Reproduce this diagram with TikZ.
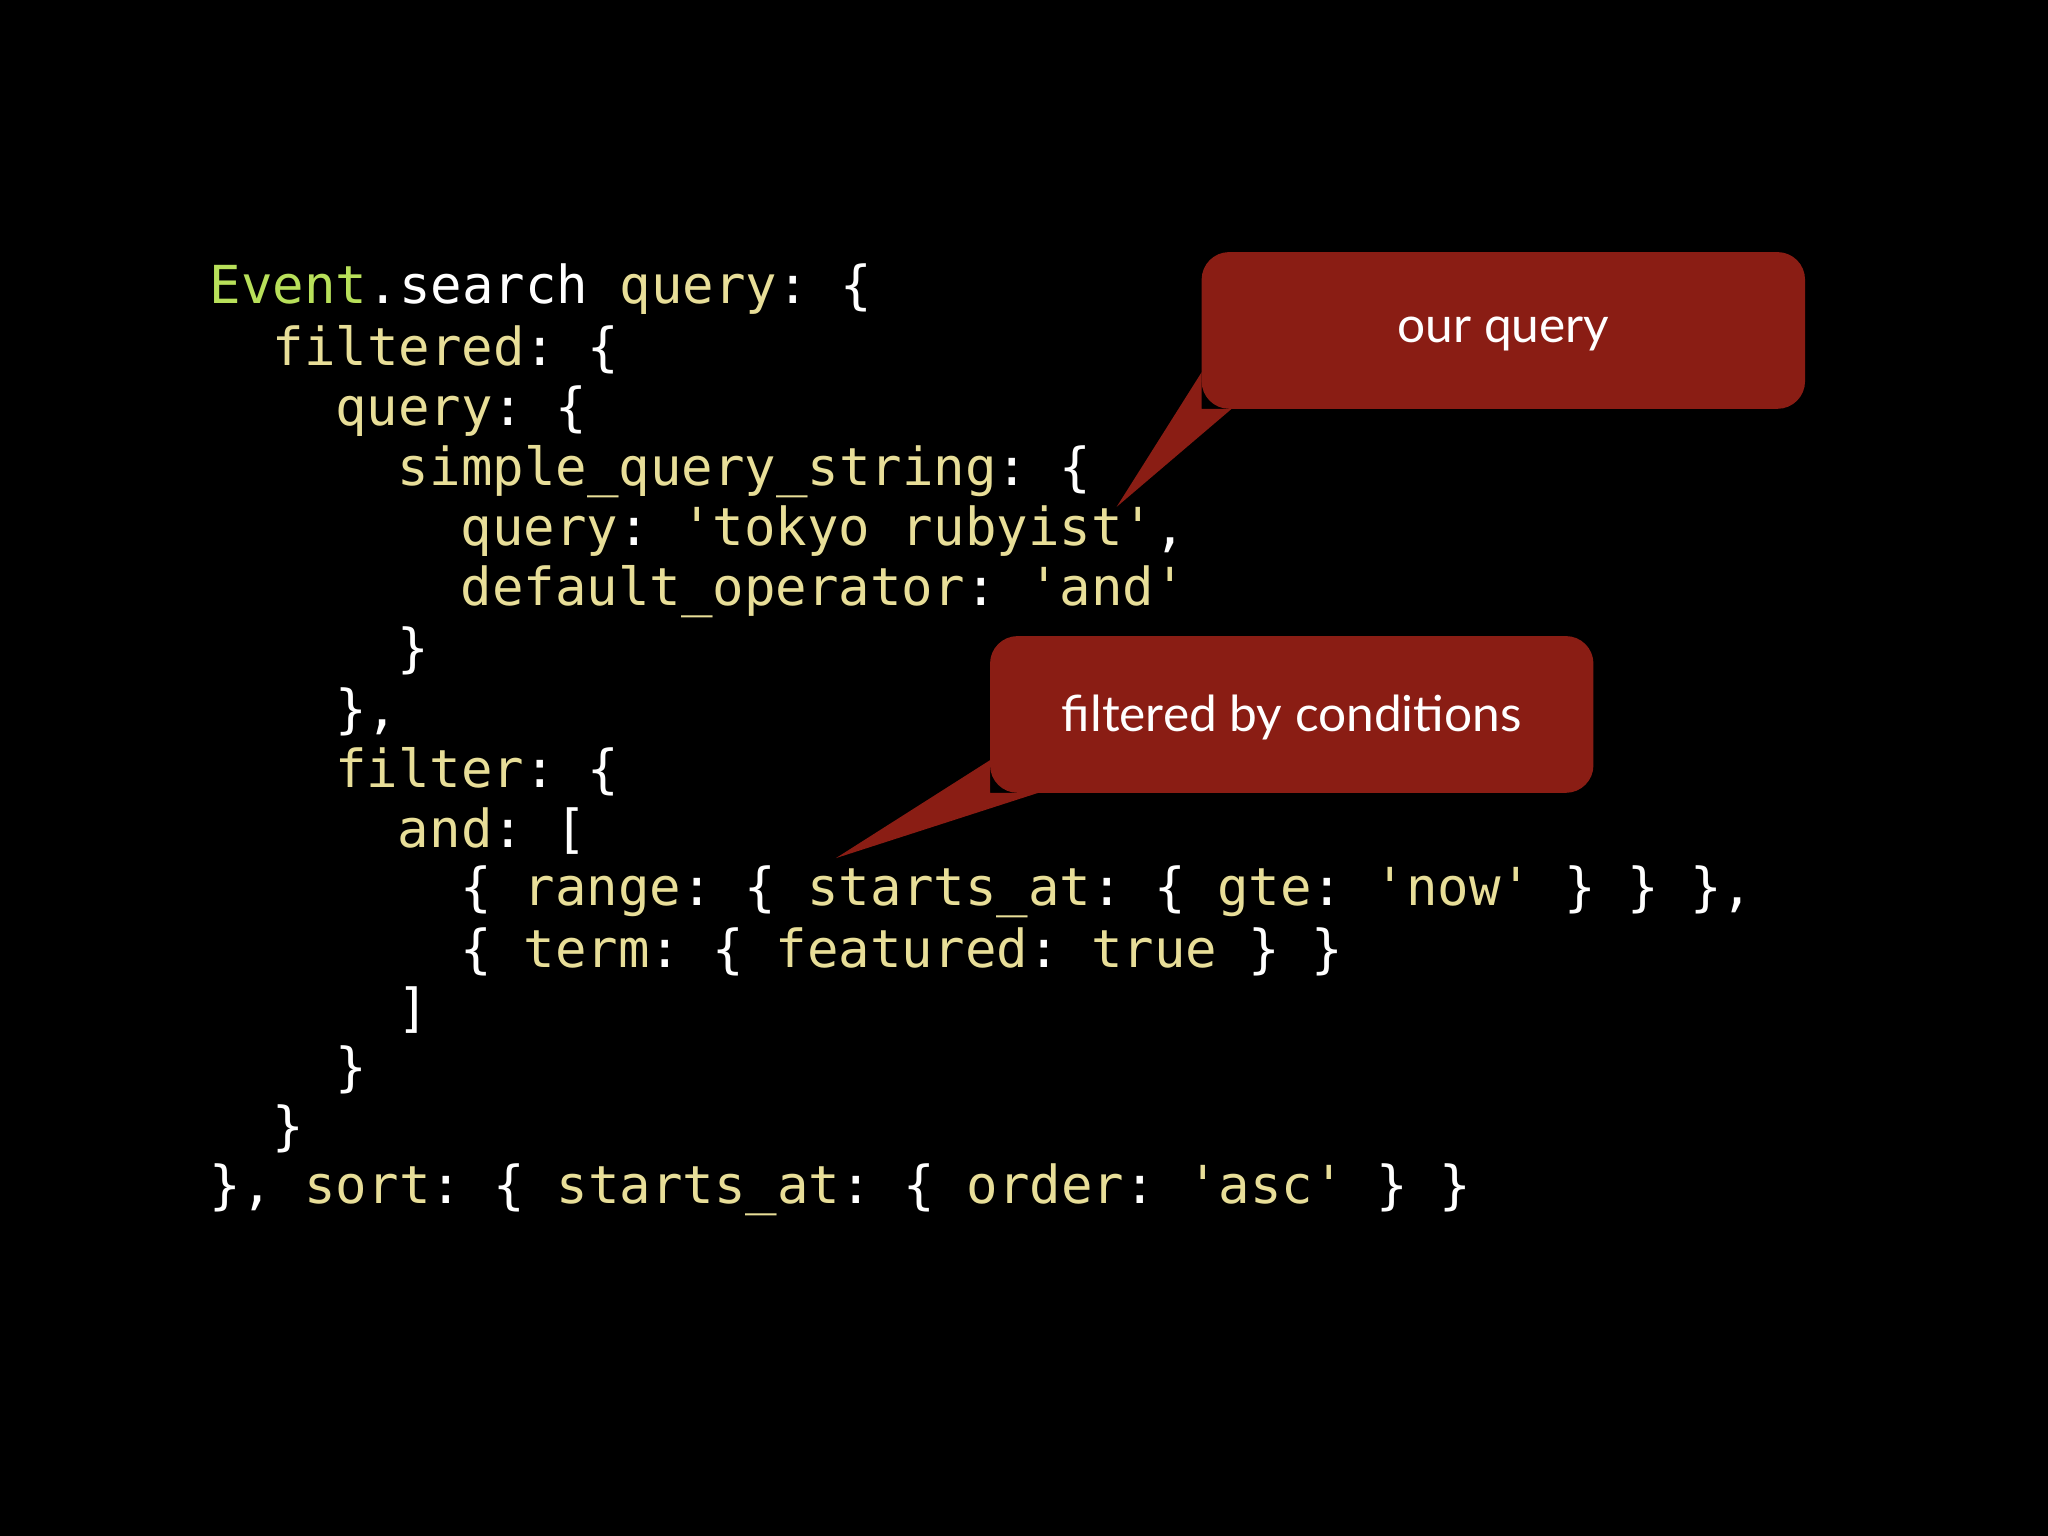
\documentclass[tikz,border=0pt]{standalone}
\usepackage{fontspec}
\setmonofont{DejaVu Sans Mono}
\newfontfamily\calloutfont{Lato}
\definecolor{kw}{HTML}{E8DE98}
\definecolor{ev}{HTML}{B8E05A}
\definecolor{cred}{HTML}{8A1D14}
\begin{document}
\begin{tikzpicture}[x=0.01cm,y=-0.01cm,
  code/.style={anchor=west,inner sep=0pt,text=white,font=\ttfamily\fontsize{11.4pt}{13pt}\selectfont},
  callout/.style={fill=cred,draw=none},
  ctext/.style={text=white,font=\calloutfont\fontsize{10.8pt}{13pt}\selectfont}]
\fill[black] (0,0) rectangle (1568,1176);
\newcommand{\K}[1]{\textcolor{kw}{#1}}
\node[code] (l1) at (160,221) {\textcolor{ev}{Event}.search \K{query}: \{};
\node[code] (l2) at (208,268) {\K{filtered}: \{};
\node[code] (l3) at (256,315) {\K{query}: \{};
\node[code] (l4) at (304,361) {\K{simple\_query\_string}: \{};
\node[code] (l5) at (352,407) {\K{query}: \K{'tokyo rubyist'},};
\node[code] (l6) at (352,453) {\K{default\_operator}: \K{'and'}};
\node[code] (l7) at (304,498) {\}};
\node[code] (l8) at (256,545) {\},};
\node[code] (l9) at (256,591) {\K{filter}: \{};
\node[code] (l10) at (304,636) {\K{and}: [};
\node[code] (l11) at (352,683) {\{ \K{range}: \{ \K{starts\_at}: \{ \K{gte}: \K{'now'} \} \} \},};
\node[code] (l12) at (352,729) {\{ \K{term}: \{ \K{featured}: \K{true} \} \}};
\node[code] (l13) at (304,773) {]};
\node[code] (l14) at (256,819) {\}};
\node[code] (l15) at (208,864) {\}};
\node[code] (l16) at (160,911) {\}, \K{sort}: \{ \K{starts\_at}: \{ \K{order}: \K{'asc'} \} \}};
% callout 1
\fill[callout,rounded corners=6] (920,193) rectangle (1382,313);
\fill[callout] (920,285) -- (855,388) -- (943,313) -- (920,313) -- cycle;
\node[ctext] (c1) at (1151,256) {our query};
% callout 2
\fill[callout,rounded corners=6] (758,487) rectangle (1220,607);
\fill[callout] (758,582) -- (640,657) -- (795,607) -- (758,607) -- cycle;
\node[ctext] (c2) at (989,549) {filtered by conditions};
\end{tikzpicture}
\end{document}
